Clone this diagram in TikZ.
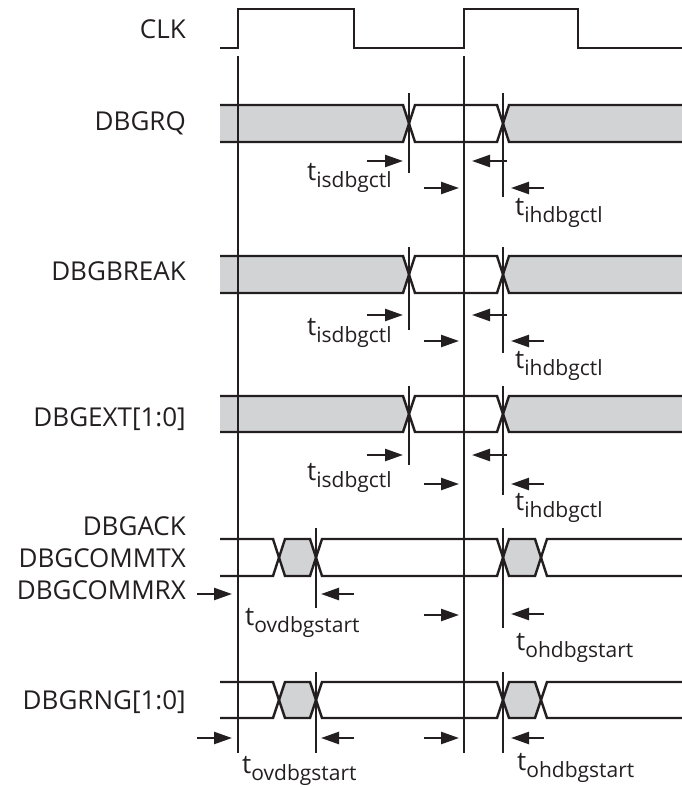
\documentclass[tikz,border=0pt]{standalone}
\usepackage{fontspec}
\setmainfont{Open Sans}
\usetikzlibrary{arrows.meta}
\definecolor{ink}{RGB}{35,31,32}
\definecolor{busgray}{RGB}{209,211,212}
\newcommand{\tsub}[1]{{\fontsize{26}{26}\selectfont t}\raisebox{-7pt}{\fontsize{21}{21}\selectfont #1}}
\begin{document}
\begin{tikzpicture}[x=1pt,y=-1pt,line width=2.4pt,draw=ink,
  sig/.style={font=\fontsize{26}{30}\selectfont,anchor=base east,inner sep=0pt,text=ink},
  tlab/.style={anchor=base west,inner sep=0pt,text=ink},
  arr/.style={draw=ink,-{Triangle[length=18pt,width=12pt]},line width=2.4pt}]
\useasboundingbox (0,0) rectangle (682,787);
% ---- gray fills, control rows
\foreach \top/\bot in {105/142,256/293,396/432}{
  \fill[busgray] (220,\top) -- (403,\top) -- (409,{(\top+\bot)/2}) -- (403,\bot) -- (220,\bot) -- cycle;
  \fill[busgray] (682,\top) -- (509,\top) -- (503,{(\top+\bot)/2}) -- (509,\bot) -- (682,\bot) -- cycle;
}
% ---- gray fills, start rows
\foreach \top/\bot in {539/576,682/718}{
  \fill[busgray] (279,{(\top+\bot)/2}) -- (285,\top) -- (310,\top) -- (316,{(\top+\bot)/2}) -- (310,\bot) -- (285,\bot) -- cycle;
  \fill[busgray] (503,{(\top+\bot)/2}) -- (509,\top) -- (535,\top) -- (541,{(\top+\bot)/2}) -- (535,\bot) -- (509,\bot) -- cycle;
}
% ---- clock
\draw[line join=miter] (220,48) -- (238,48) -- (238,9) -- (354,9) -- (354,48) -- (464,48) -- (464,9) -- (578,9) -- (578,48) -- (682,48);
\draw (238,56) -- (238,753);
\draw (464,56) -- (464,753);
% ---- control rows
\foreach \nm/\top/\bot/\tt/\ka/\kb/\ya/\yb/\la/\lb in
  {rq/105/142/93/173/197/161/188/180/215,
   brk/256/293/247/330/353/315/341/335/368,
   ext/396/432/386/465/495/455/484/480/510}{
  \draw (220,\top) -- (403,\top) -- (415,\bot) -- (497,\bot) -- (509,\top) -- (682,\top);
  \draw (220,\bot) -- (403,\bot) -- (415,\top) -- (497,\top) -- (509,\bot) -- (682,\bot);
  \draw (409,\tt) -- (409,\ka);
  \draw (503,\tt) -- (503,\kb);
  \draw[arr] (367,\ya) -- (403,\ya);
  \draw[arr] (424,\yb) -- (459,\yb);
  \draw[arr] (507,\ya) -- (472,\ya);
  \draw[arr] (544,\yb) -- (511,\yb);
  \node[tlab] (is\nm) at (306,\la) {\tsub{isdbgctl}};
  \node[tlab] (ih\nm) at (514,\lb) {\tsub{ihdbgctl}};
}
% ---- start rows
\foreach \nm/\top/\bot/\tt/\ka/\kb/\ya/\yb/\yc/\yd/\lax/\lay/\lbx/\lby in
  {ack/539/576/528/608/628/594/594/615/614/244/625/515/650,
   rng/682/718/672/753/753/738/738/738/738/241/773/516/770}{
  \draw (220,\top) -- (273,\top) -- (285,\bot) -- (310,\bot) -- (322,\top) -- (497,\top) -- (509,\bot) -- (535,\bot) -- (547,\top) -- (682,\top);
  \draw (220,\bot) -- (273,\bot) -- (285,\top) -- (310,\top) -- (322,\bot) -- (497,\bot) -- (509,\top) -- (535,\top) -- (547,\bot) -- (682,\bot);
  \draw (316,\tt) -- (316,\ka);
  \draw (503,\tt) -- (503,\kb);
  \draw[arr] (197,\ya) -- (232,\ya);
  \draw[arr] (354,\yb) -- (321,\yb);
  \draw[arr] (424,\yc) -- (459,\yc);
  \draw[arr] (544,\yd) -- (511,\yd);
  \node[tlab] (ov\nm) at (\lax,\lay) {\tsub{ovdbgstart}};
  \node[tlab] (oh\nm) at (\lbx,\lby) {\tsub{ohdbgstart}};
}
% ---- signal names
\node[sig] (clk) at (187,38) {CLK};
\node[sig] (dbgrq) at (187,130) {DBGRQ};
\node[sig] (dbgbreak) at (187,280) {DBGBREAK};
\node[sig] (dbgext) at (187,426) {DBGEXT[1:0]};
\node[sig] (dbgack) at (187,535) {DBGACK};
\node[sig] (dbgcommtx) at (187,567) {DBGCOMMTX};
\node[sig] (dbgcommrx) at (187,599) {DBGCOMMRX};
\node[sig] (dbgrng) at (187,709) {DBGRNG[1:0]};
\end{tikzpicture}
\end{document}
